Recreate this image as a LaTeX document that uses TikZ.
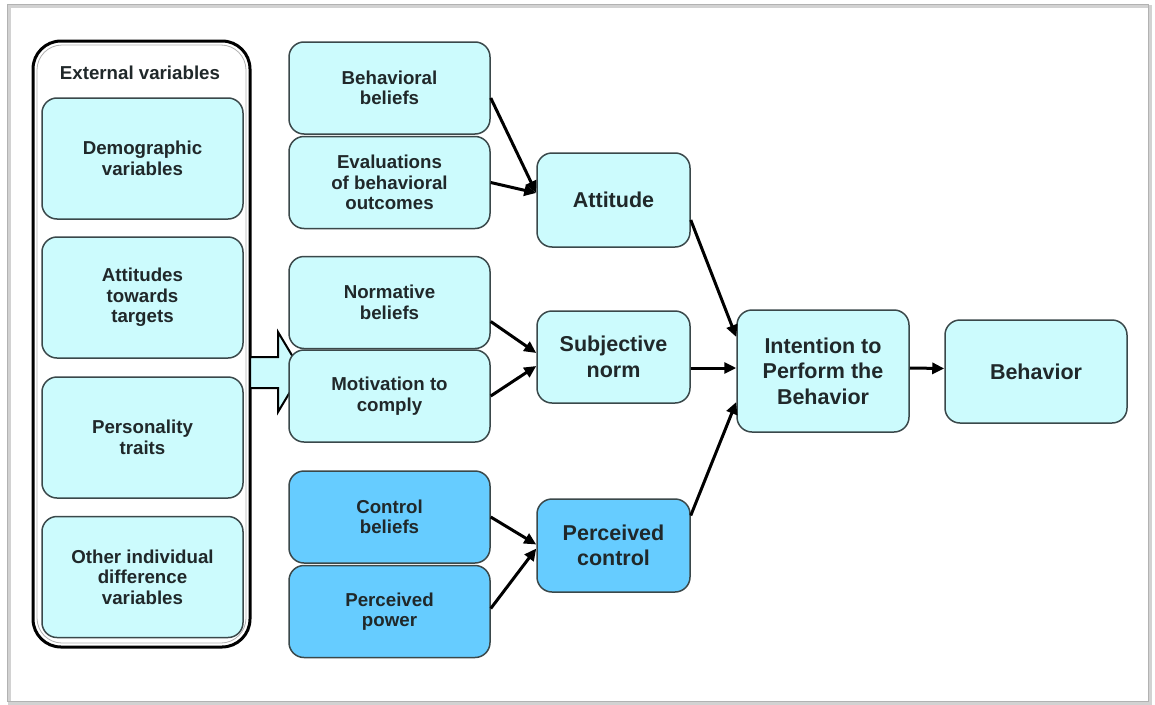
\documentclass[tikz,border=0pt]{standalone}
\usepackage{fontspec}
\setmainfont{Liberation Sans}
\usepackage{tikz}
\usetikzlibrary{calc}
\usetikzlibrary{positioning}
\usetikzlibrary{arrows.meta}
\definecolor{boxcyan}{RGB}{204,251,253}
\definecolor{boxblue}{RGB}{102,204,255}
\definecolor{boxline}{RGB}{58,72,74}
\definecolor{txtgray}{RGB}{32,40,42}
\tikzset{
  box/.style={draw=boxline,line width=1.5pt,rounded corners=15pt,fill=boxcyan,
    inner sep=0pt,align=center,text=txtgray,font=\bfseries\fontsize{18.7}{20.5}\selectfont},
  extbox/.style={box,minimum width=201pt,minimum height=121pt},
  midbox/.style={box,minimum width=201pt,minimum height=92pt},
  bigbox/.style={box,font=\bfseries\fontsize{21.5}{25.5}\selectfont},
  bluebox/.style={fill=boxblue},
  link/.style={line width=3pt,-{Triangle[length=12pt,width=11pt]}}
}
\begin{document}
\begin{tikzpicture}[x=1pt,y=-1pt]
  \useasboundingbox (0,0) rectangle (1155,704);
  \fill[white] (0,0) rectangle (1155,704);
  \draw[gray!35,line width=3pt] (9,6) rectangle (1150,703);
  \draw[gray!60,line width=1pt] (7,4) rectangle (1148,701);
  % external variables
  \draw[line width=3pt,rounded corners=28pt] (33,41) rectangle (250,647);
  \draw[gray!60,line width=0.8pt,rounded corners=25pt] (37,45) rectangle (246,643);
  \node[text=txtgray,font=\bfseries\fontsize{18.7}{21}\selectfont] (extlabel) at (140,73) {External variables};
  \node[extbox] (demo) at (142.5,158.5) {Demographic\\variables};
  \node[extbox] (atttarget) at (142.5,297.5) {Attitudes\\towards\\targets};
  \node[extbox] (person) at (142.5,437.5) {Personality\\traits};
  \node[extbox] (other) at (142.5,577) {Other individual\\difference\\variables};
  \draw[line width=2pt,fill=boxcyan] (250,357) -- (278,357) -- (278,332) -- (302,372)
    -- (278,412) -- (278,388) -- (250,388) -- cycle;
  % beliefs
  \node[midbox] (bbelief) at (389.5,88) {Behavioral\\beliefs};
  \node[midbox] (evalout) at (389.5,182.5) {Evaluations\\of behavioral\\outcomes};
  \node[midbox] (nbelief) at (389.5,302.5) {Normative\\beliefs};
  \node[midbox] (motiv) at (389.5,396) {Motivation to\\comply};
  \node[midbox,bluebox] (cbelief) at (389.5,517) {Control\\beliefs};
  \node[midbox,bluebox] (ppower) at (389.5,611.5) {Perceived\\power};
  % determinants
  \node[bigbox,minimum width=153pt,minimum height=94pt] (attitude) at (613.5,200) {Attitude};
  \node[bigbox,minimum width=153pt,minimum height=92pt] (subjnorm) at (613.5,357) {Subjective\\norm};
  \node[bigbox,bluebox,minimum width=153pt,minimum height=93pt] (pcontrol) at (613.5,545.5) {Perceived\\control};
  \node[bigbox,minimum width=172pt,minimum height=122pt] (intent) at (823,371) {Intention to\\Perform the\\Behavior};
  \node[bigbox,minimum width=182pt,minimum height=103pt] (behav) at (1036,371.5) {Behavior};
  \draw[link] ($(bbelief.east)+(0,10)$) -- ($(attitude.west)+(0,-7)$);
  \draw[link] (evalout.east) -- ($(attitude.west)+(0,-7)$);
  \draw[link] ($(nbelief.east)+(0,19)$) -- ($(subjnorm.west)+(0,-4)$);
  \draw[link] (motiv.east) -- ($(subjnorm.west)+(0,9)$);
  \draw[link] (cbelief.east) -- ($(pcontrol.west)+(0,-1)$);
  \draw[link] ($(ppower.east)+(0,-3)$) -- ($(pcontrol.west)+(0,3)$);
  \draw[link] ($(attitude.east)+(0,20)$) -- ($(intent.west)+(0,-34)$);
  \draw[link] ($(subjnorm.east)+(0,11)$) -- ($(intent.west)+(0,-3)$);
  \draw[link] ($(pcontrol.east)+(0,-30)$) -- ($(intent.west)+(0,31)$);
  \draw[link] ($(intent.east)+(0,-3)$) -- ($(behav.west)+(0,-3)$);
\end{tikzpicture}
\end{document}
